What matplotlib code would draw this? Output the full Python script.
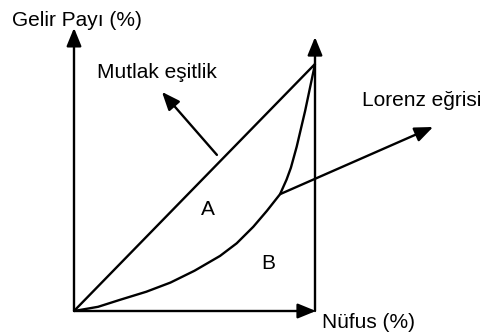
import matplotlib
matplotlib.use("Agg")
import matplotlib.pyplot as plt

plt.rcParams['font.family'] = ['Liberation Sans', 'DejaVu Sans']

# Data (percent)
equality_x = [0, 100]
equality_y = [0, 100]
lorenz_x = [0, 10, 19, 30, 40, 50, 60.6, 67.5, 74.4, 80, 85.5, 88.2, 90, 92.4, 95.9, 98.6, 100]
lorenz_y = [0, 1.7, 4.5, 7.8, 11.5, 16.3, 22.3, 27.4, 34.1, 40.5, 47.3, 53.2, 58, 66.5, 81, 93.5, 100]

ylabel = "Gelir Payı (%)"
xlabel = "Nüfus (%)"
eq_label = "Mutlak eşitlik"
lorenz_label = "Lorenz eğrisi"
area_labels = ["A", "B"]

W, H = 481, 334
fig = plt.figure(figsize=(W / 100, H / 100), dpi=100)
ax = fig.add_axes([74 / W, (H - 311) / H, 241 / W, 247 / H])
ax.set_xlim(0, 100)
ax.set_ylim(0, 100)
ax.axis('off')

lw = 1.7
k = dict(color='black', lw=lw, solid_capstyle='butt', solid_joinstyle='round', clip_on=False)
ax.plot(equality_x, equality_y, **k)
ax.plot(lorenz_x, lorenz_y, **k)

arr = dict(arrowstyle='-|>,head_length=1.1,head_width=0.45', color='black',
           lw=lw, mutation_scale=10, shrinkA=0, shrinkB=0)

def arrow(x0, y0, x1, y1):
    ax.annotate('', xy=(x1, y1), xytext=(x0, y0), xycoords='data',
                textcoords='data', arrowprops=arr, annotation_clip=False)

# axes
arrow(0, 0, 0, 114.6)
arrow(0, 0, 100.4, 0)
arrow(100, 0, 100, 110.9)
# pointer arrows
arrow(59.3, 63.2, 36.5, 88.7)
arrow(85.5, 47.3, 149, 74.5)

fs = 15
ax.text(-25.7, 117.8, ylabel, ha='left', va='center', fontsize=fs, clip_on=False)
ax.text(9.5, 96.4, eq_label, ha='left', va='center', fontsize=fs, clip_on=False)
ax.text(119.5, 85.4, lorenz_label, ha='left', va='center', fontsize=fs, clip_on=False)
ax.text(102.9, -4.5, xlabel, ha='left', va='center', fontsize=fs, clip_on=False)
ax.text(55.6, 40.9, area_labels[0], ha='center', va='center', fontsize=fs)
ax.text(80.5, 19.4, area_labels[1], ha='center', va='center', fontsize=fs)

fig.savefig('out.png', dpi=100, facecolor='white')
